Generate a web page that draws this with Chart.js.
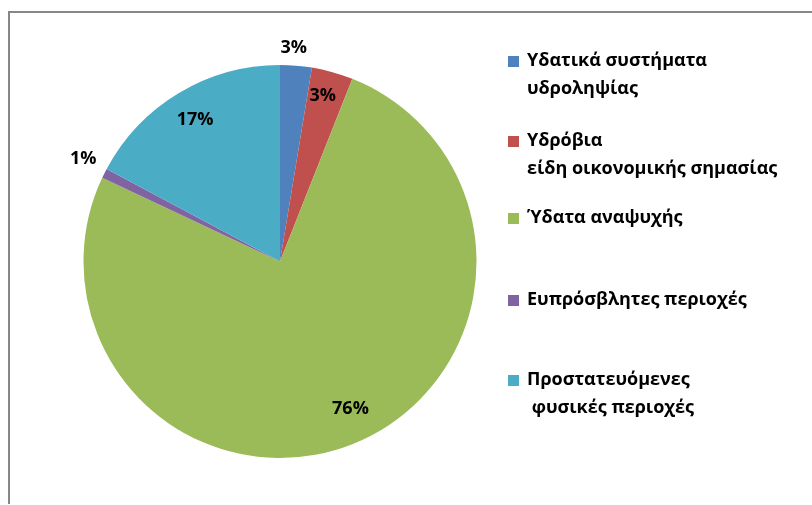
<!DOCTYPE html>
<html>
<head>
<meta charset="utf-8">
<script src="https://cdn.jsdelivr.net/npm/chart.js@4/dist/chart.umd.min.js"></script>
<style>
  html, body { margin: 0; padding: 0; background: #fff; }
  #wrap { width: 812px; height: 505px; }
</style>
</head>
<body>
<div id="wrap"><canvas id="chartPie" width="812" height="505"></canvas></div>
<script>
// === DATA ===
const categories = [
  ['Υδατικά συστήματα', 'υδροληψίας'],
  ['Υδρόβια', 'είδη οικονομικής σημασίας'],
  ['Ύδατα αναψυχής'],
  ['Ευπρόσβλητες περιοχές'],
  ['Προστατευόμενες', ' φυσικές περιοχές']
];
const shares = [2.6, 3.4, 76.0, 0.8, 17.2];
const sliceColors = ['#4F81BD', '#C0504D', '#9BBB59', '#8064A2', '#4BACC6'];

// label placement, as a fraction of the pie radius (>1 = outside)
const labelRadius = [1.09, 0.87, 0.83, 1.13, 0.84];
// small angular nudge per label (degrees)
const labelTurn = [-1, -1, -4, 1, 0];
// legend rows (y of first line centre)
const legendRows = [61, 141, 218, 300, 380];

const FONT = '"Open Sans", "DejaVu Sans", sans-serif';

/**
 * Draws the grey frame, percentage labels and the right-hand legend.
 */
const decorPlugin = {
  id: 'decor',
  beforeDraw(chart) {
    const ctx = chart.ctx;
    ctx.save();
    ctx.strokeStyle = '#878787';
    ctx.lineWidth = 2;
    ctx.beginPath();
    ctx.moveTo(9, 504);
    ctx.lineTo(9, 12);
    ctx.lineTo(812, 12);
    ctx.stroke();
    ctx.restore();
  },
  afterDraw(chart) {
    const ctx = chart.ctx;
    const meta = chart.getDatasetMeta(0);
    const total = shares.reduce((a, b) => a + b, 0);
    ctx.save();
    ctx.fillStyle = '#000';
    ctx.textAlign = 'center';
    ctx.textBaseline = 'middle';
    ctx.font = 'bold 18px ' + FONT;
    meta.data.forEach((arc, i) => {
      const p = arc.getProps(['x', 'y', 'startAngle', 'endAngle', 'outerRadius'], true);
      const mid = (p.startAngle + p.endAngle) / 2 + labelTurn[i] * Math.PI / 180;
      const r = p.outerRadius * labelRadius[i];
      const pct = Math.round(shares[i] / total * 100) + '%';
      ctx.fillText(pct, p.x + Math.cos(mid) * r, p.y + Math.sin(mid) * r);
    });

    // legend
    ctx.textAlign = 'left';
    categories.forEach((lines, i) => {
      const y = legendRows[i];
      ctx.fillStyle = sliceColors[i];
      ctx.fillRect(508, y - 5, 11, 11);
      ctx.fillStyle = '#000';
      lines.forEach((t, j) => ctx.fillText(t, 527, y + j * 28));
    });
    ctx.restore();
  }
};

const ctxPie = document.getElementById('chartPie').getContext('2d');
const chartPie = new Chart(ctxPie, {
  type: 'pie',
  data: {
    labels: categories.map(c => c.join(' ')),
    datasets: [{
      data: shares,
      backgroundColor: sliceColors,
      borderWidth: 0
    }]
  },
  options: {
    responsive: false,
    animation: false,
    layout: { padding: { left: 83, right: 335, top: 65, bottom: 47 } },
    plugins: {
      legend: { display: false },
      tooltip: { enabled: false }
    }
  },
  plugins: [decorPlugin]
});
</script>
</body>
</html>
